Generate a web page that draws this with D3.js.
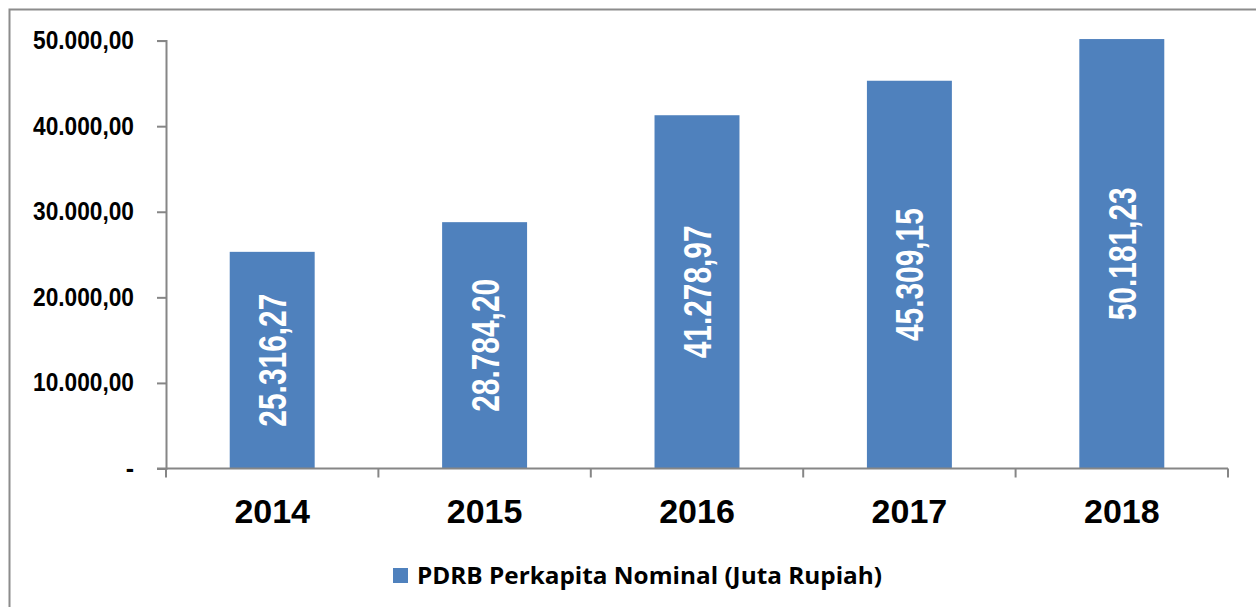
<!DOCTYPE html>
<html lang="en">
<head>
<meta charset="UTF-8">
<title>PDRB Perkapita Nominal</title>
<script src="https://cdnjs.cloudflare.com/ajax/libs/d3/7.8.5/d3.min.js"></script>
<style>
    body { margin: 0; background: #fff; }
    svg { display: block; }
</style>
</head>
<body>
<script>
    // data
    var years = ["2014", "2015", "2016", "2017", "2018"];
    var values = [25316.27, 28784.20, 41278.97, 45309.15, 50181.23];
    var yTicks = [0, 10000, 20000, 30000, 40000, 50000];
    var seriesName = "PDRB Perkapita Nominal (Juta Rupiah)";

    var width = 1256, height = 607;
    var plotLeft = 166, plotRight = 1228, plotTop = 40.6, plotBottom = 468.5;
    var barColor = "#4F81BD", axisColor = "#868686";

    var svg = d3.select("body").append("svg")
        .attr("width", width)
        .attr("height", height);

    // outer chart border
    svg.append("rect")
        .attr("x", 9.5).attr("y", 9.5)
        .attr("width", 1262).attr("height", 620)
        .attr("fill", "none")
        .attr("stroke", "#8c8c8c")
        .attr("stroke-width", 2);

    var x = d3.scaleBand().domain(years).range([plotLeft, plotRight]).padding(0);
    var y = d3.scaleLinear().domain([0, 50000]).range([plotBottom, plotTop]);

    var loc = d3.formatLocale({ decimal: ",", thousands: ".", grouping: [3], currency: ["", ""] });
    var fmt = loc.format(",.2f");

    // bars
    var bw = x.bandwidth() * 0.4;
    svg.append("g")
        .selectAll("rect")
        .data(values)
        .enter()
        .append("rect")
        .attr("x", function (d, i) { return x(years[i]) + (x.bandwidth() - bw) / 2; })
        .attr("y", function (d) { return y(d); })
        .attr("width", bw)
        .attr("height", function (d) { return y(0) - y(d); })
        .attr("fill", barColor);

    // value labels, rotated (narrow look via textLength)
    svg.append("g")
        .selectAll("text")
        .data(values)
        .enter()
        .append("text")
        .attr("transform", function (d, i) {
            var cx = x(years[i]) + x.bandwidth() / 2;
            var cy = (y(d) + y(0)) / 2;
            return "translate(" + cx + "," + cy + ") rotate(-90)";
        })
        .attr("text-anchor", "middle")
        .attr("dy", "0.36em")
        .attr("fill", "#fff")
        .attr("textLength", 133)
        .attr("lengthAdjust", "spacingAndGlyphs")
        .style("font-family", "'Liberation Sans', Arial, sans-serif")
        .style("font-weight", "bold")
        .style("font-size", "39px")
        .text(function (d) { return fmt(d); });

    // y axis
    var yAxis = svg.append("g")
        .attr("transform", "translate(" + plotLeft + ",0)")
        .call(d3.axisLeft(y)
            .tickValues(yTicks)
            .tickSize(9)
            .tickPadding(23)
            .tickFormat(function (d) { return d === 0 ? "-" : fmt(d); }));
    yAxis.select(".domain").attr("stroke", axisColor).attr("stroke-width", 2);
    yAxis.selectAll(".tick line").attr("stroke", axisColor).attr("stroke-width", 2);
    yAxis.selectAll("text")
        .attr("fill", "#000")
        .style("font-family", "'Liberation Sans', Arial, sans-serif")
        .style("font-weight", "bold")
        .style("font-size", "25px");
    yAxis.selectAll("text")
        .filter(function (d) { return d !== 0; })
        .attr("textLength", 101)
        .attr("lengthAdjust", "spacingAndGlyphs");

    // x axis: line plus ticks on category boundaries
    var xg = svg.append("g");
    xg.append("line")
        .attr("x1", plotLeft - 9).attr("x2", plotRight)
        .attr("y1", y(0)).attr("y2", y(0))
        .attr("stroke", axisColor).attr("stroke-width", 2);
    var edges = years.map(function (d) { return x(d); }).concat([plotRight]);
    xg.selectAll(".xt")
        .data(edges)
        .enter()
        .append("line")
        .attr("class", "xt")
        .attr("x1", function (d) { return d; }).attr("x2", function (d) { return d; })
        .attr("y1", y(0)).attr("y2", y(0) + 9)
        .attr("stroke", axisColor).attr("stroke-width", 2);
    xg.selectAll(".xl")
        .data(years)
        .enter()
        .append("text")
        .attr("class", "xl")
        .attr("x", function (d) { return x(d) + x.bandwidth() / 2; })
        .attr("y", 523)
        .attr("text-anchor", "middle")
        .style("font-family", "'Liberation Sans', Arial, sans-serif")
        .style("font-weight", "bold")
        .style("font-size", "34px")
        .text(function (d) { return d; });

    // legend
    var lg = svg.append("g").attr("transform", "translate(393,568)");
    lg.append("rect")
        .attr("width", 15).attr("height", 15)
        .attr("fill", barColor);
    lg.append("text")
        .attr("x", 24).attr("y", 16)
        .style("font-family", "'Open Sans', 'Noto Sans', sans-serif")
        .style("font-weight", "bold")
        .style("font-size", "23px")
        .attr("textLength", 465)
        .attr("lengthAdjust", "spacingAndGlyphs")
        .text(seriesName);
</script>
</body>
</html>
